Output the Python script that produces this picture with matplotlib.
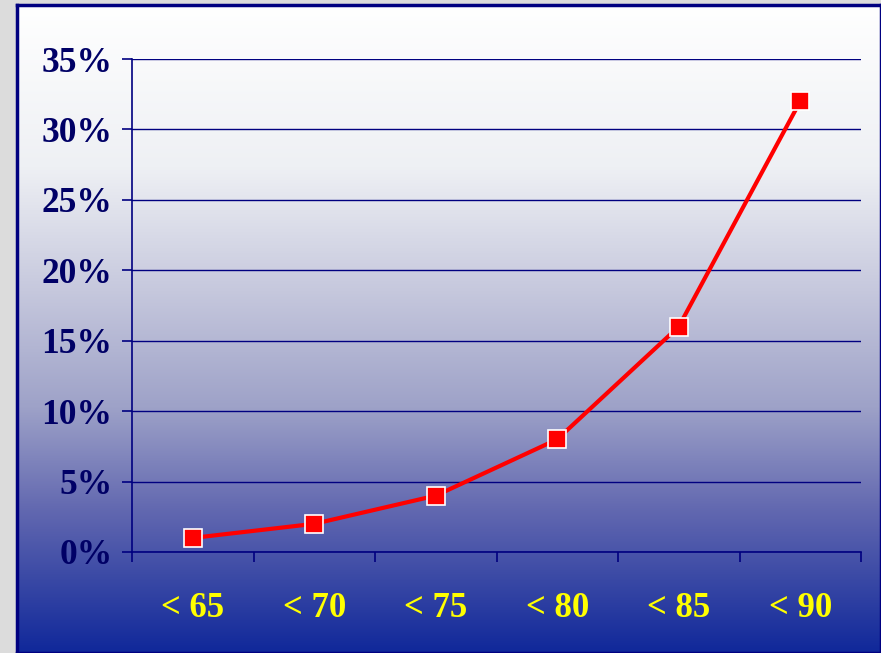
import numpy as np
import matplotlib.pyplot as plt
from matplotlib.colors import LinearSegmentedColormap

# share of cases by age band
age_bands = ['< 65', '< 70', '< 75', '< 80', '< 85', '< 90']
share = [1, 2, 4, 8, 16, 32]
y_ticks = [0, 5, 10, 15, 20, 25, 30, 35]

W, H = 881, 653
fig = plt.figure(figsize=(W / 100, H / 100), dpi=100)
fig.patch.set_facecolor('#dcdcdc')

# framed panel with a white-to-blue vertical gradient
bg = fig.add_axes([17 / W, 0, 1 - 17 / W, 1 - 5 / H])
grad = LinearSegmentedColormap.from_list('panel', [
    (0.0, '#ffffff'), (0.25, '#eef0f4'), (0.45, '#c4c6dc'),
    (0.62, '#9ea2c8'), (0.78, '#6268b0'), (1.0, '#10289a')])
bg.imshow(np.linspace(0, 1, 256)[:, None], aspect='auto', cmap=grad,
          extent=[0, 1, 0, 1], origin='upper')
bg.set_xticks([])
bg.set_yticks([])
for side, sp in bg.spines.items():
    sp.set_color('#000080')
    sp.set_linewidth(2.5)

ax = fig.add_axes([132 / W, 1 - 552 / H, (861 - 132) / W, (552 - 59) / H])
ax.patch.set_alpha(0)
x = np.arange(len(age_bands))
ax.plot(x, share, color='#ff0000', lw=3, marker='s', ms=13,
        mfc='#ff0000', mec='white', mew=1.2, zorder=3)

ax.set_xlim(-0.5, len(age_bands) - 0.5)
ax.set_ylim(0, 35)
ax.set_yticks(y_ticks)
ax.set_yticklabels([f'{v}%' for v in y_ticks])
ax.yaxis.grid(True, color='#000080', lw=1)
ax.set_axisbelow(True)

ax.set_xticks(np.arange(len(age_bands) + 1) - 0.5, minor=False)
ax.set_xticklabels([])
ax.set_xticks(x, minor=True)
ax.set_xticklabels(age_bands, minor=True)
ax.tick_params(axis='x', which='major', length=7, width=1.2, color='#000080')
ax.tick_params(axis='x', which='minor', length=0, pad=29, labelsize=25,
               labelcolor='#ffff00')
ax.tick_params(axis='y', length=7, width=1.2, color='#000080', pad=7,
               labelsize=25.5, labelcolor='#000066')

for lbl in ax.get_yticklabels() + ax.get_xticklabels(minor=True):
    lbl.set_fontfamily('Liberation Serif')
    lbl.set_fontweight('bold')

for side in ['top', 'right']:
    ax.spines[side].set_visible(False)
ax.spines['left'].set_color('#000080')
ax.spines['bottom'].set_color('#000080')
ax.spines['left'].set_linewidth(1.2)
ax.spines['bottom'].set_linewidth(1.2)

fig.savefig('out.png', dpi=100, facecolor=fig.get_facecolor())
